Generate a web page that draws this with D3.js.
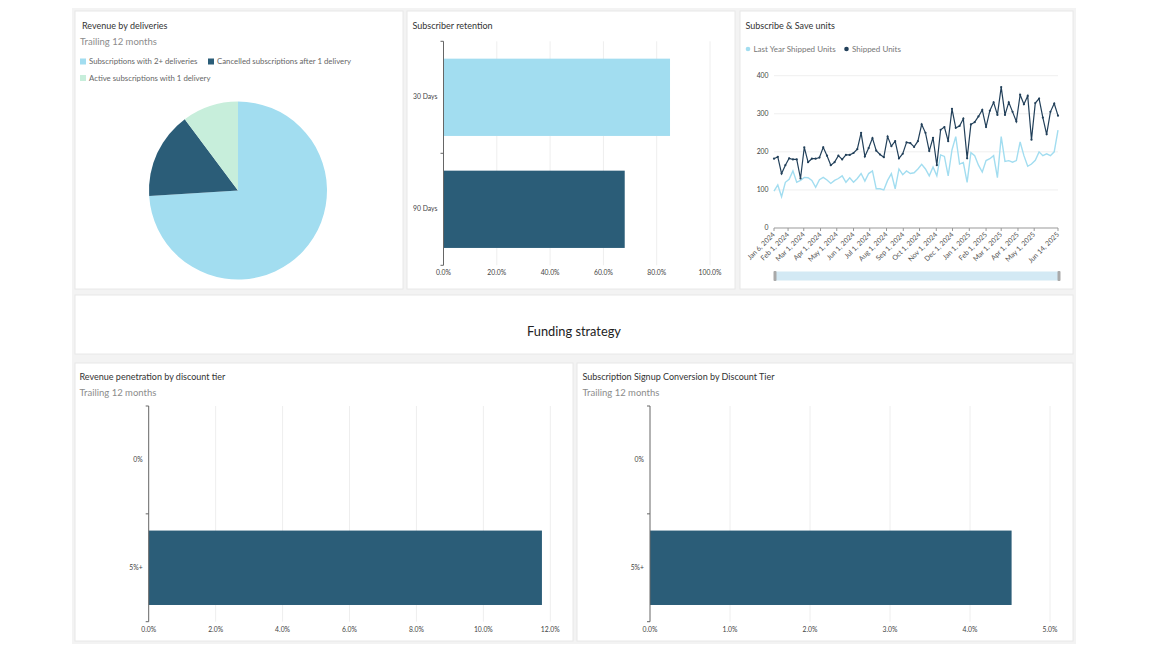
<!DOCTYPE html>
<html>
<head>
<meta charset="utf-8">
<script src="https://cdn.jsdelivr.net/npm/d3@7"></script>
<style>
  body { margin: 0; background: #fff; }
  text { font-family: Lato, "Open Sans", sans-serif; }
</style>
</head>
<body>
<div id="visualization"></div>
<script>
// ---- data ----
let pieLabels = ["Subscriptions with 2+ deliveries", "Cancelled subscriptions after 1 delivery", "Active subscriptions with 1 delivery"];
let pieValues = [74.0, 15.8, 10.2];

let retentionCats = ["30 Days", "90 Days"];
let retentionValues = [0.85, 0.68];

let firstWeek = "Jan 6, 2024";
let shippedUnits = [182,187,143,165,183,180,180,130,212,173,182,182,185,212,190,165,173,190,180,192,
  192,197,207,250,188,210,236,203,193,186,240,215,228,183,195,225,223,213,228,272,
  250,202,237,165,258,265,228,313,263,268,287,183,272,278,293,310,265,308,330,297,
  370,297,330,305,280,350,325,347,232,328,340,290,246,305,327,295];
let lastYearUnits = [97,113,82,120,128,150,120,125,133,132,125,107,127,133,126,117,125,130,137,120,
  132,120,130,143,123,143,150,103,103,100,125,143,103,155,140,150,143,145,155,167,
  155,137,160,137,192,188,137,205,240,168,172,120,198,190,165,147,177,182,190,132,
  240,175,177,173,177,226,190,162,168,178,200,190,195,190,200,257];
let dateTickLabels = ["Jan 6, 2024","Feb 1, 2024","Mar 1, 2024","Apr 1, 2024","May 1, 2024","Jun 1, 2024",
  "Jul 1, 2024","Aug 1, 2024","Sep 1, 2024","Oct 1, 2024","Nov 1, 2024","Dec 1, 2024","Jan 1, 2025",
  "Feb 1, 2025","Mar 1, 2025","Apr 1, 2025","May 1, 2025","Jun 14, 2025"];
let unitTicks = [0, 100, 200, 300, 400];

let tierCats = ["0%", "5%+"];
let revPenetration = [0, 0.1175];
let signupConversion = [0, 0.0452];

let lightBlue = "#a2ddf0";
let darkBlue = "#2b5d78";
let mint = "#c7eedb";
let navy = "#22405a";

let w = 1156;
let h = 650;

let viz = d3.select("#visualization")
  .append("svg")
  .attr("width", w)
  .attr("height", h);

// dashboard background + panels
viz.append("rect").attr("x", 72).attr("y", 8).attr("width", 1004).attr("height", 636).attr("fill", "#f3f3f3");

let panels = [
  {x: 75, y: 11, w: 328, h: 278},
  {x: 407, y: 11, w: 328, h: 278},
  {x: 740, y: 11, w: 333, h: 278},
  {x: 75, y: 295, w: 998, h: 59},
  {x: 75, y: 363, w: 498, h: 278},
  {x: 577, y: 363, w: 496, h: 278}
];
viz.selectAll(".panel").data(panels).enter()
  .append("rect")
  .attr("class", "panel")
  .attr("x", d => d.x).attr("y", d => d.y)
  .attr("width", d => d.w).attr("height", d => d.h)
  .attr("fill", "#fff")
  .attr("stroke", "#e8e8e8");

function title(x, y, txt) {
  viz.append("text").attr("x", x).attr("y", y).text(txt)
    .attr("font-size", 9).attr("fill", "#333");
}
function subtitle(x, y, txt) {
  viz.append("text").attr("x", x).attr("y", y).text(txt)
    .attr("font-size", 9.5).attr("fill", "#8c8c8c");
}

// ---- Revenue by deliveries (pie) ----
title(82, 29, "Revenue by deliveries");
subtitle(80, 45, "Trailing 12 months");

let pieColors = d3.scaleOrdinal().domain(pieLabels).range([lightBlue, darkBlue, mint]);

let legendPos = [{x: 80, y: 61.5}, {x: 208, y: 61.5}, {x: 80, y: 78}];
let leg = viz.selectAll(".pieleg").data(pieLabels).enter()
  .append("g").attr("class", "pieleg")
  .attr("transform", (d, i) => "translate(" + legendPos[i].x + "," + legendPos[i].y + ")");
leg.append("rect").attr("x", 0).attr("y", -3).attr("width", 6).attr("height", 6).attr("fill", d => pieColors(d));
leg.append("text").attr("x", 9).attr("y", 2.7).text(d => d)
  .attr("font-size", 7.8).attr("fill", "#666");

let pie = d3.pie().sort(null);
let arc = d3.arc().innerRadius(0).outerRadius(89);
viz.append("g").attr("transform", "translate(238,190.5)")
  .selectAll("path").data(pie(pieValues)).enter()
  .append("path")
  .attr("d", arc)
  .attr("fill", (d, i) => pieColors(pieLabels[i]));

// ---- horizontal bar charts ----
function hbar(opts) {
  let xScale = d3.scaleLinear().domain([0, opts.max]).range([opts.x0, opts.x1]);
  let yScale = d3.scaleBand().domain(opts.cats).range([opts.y0, opts.y1])
    .paddingInner(0.31).paddingOuter(0.155);
  let bounds = d3.scaleBand().domain(opts.cats).range([opts.y0, opts.y1]);
  let ticks = d3.range(0, opts.max + opts.step / 2, opts.step);

  let g = viz.append("g");
  g.selectAll(".grid").data(ticks.slice(1)).enter()
    .append("line")
    .attr("x1", d => xScale(d)).attr("x2", d => xScale(d))
    .attr("y1", opts.y0).attr("y2", opts.y1)
    .attr("stroke", "#eeeeee");

  g.selectAll(".bar").data(opts.values).enter()
    .append("rect")
    .attr("x", xScale(0))
    .attr("y", (d, i) => yScale(opts.cats[i]))
    .attr("width", d => xScale(d) - xScale(0))
    .attr("height", yScale.bandwidth())
    .attr("fill", (d, i) => opts.colors[i]);

  // y axis line and boundary ticks
  g.append("line").attr("x1", opts.x0).attr("x2", opts.x0)
    .attr("y1", opts.y0).attr("y2", opts.y1).attr("stroke", "#666");
  let edges = opts.cats.map(c => bounds(c)).concat([opts.y1]);
  g.selectAll(".edge").data(edges).enter()
    .append("line")
    .attr("x1", opts.x0 - 3).attr("x2", opts.x0)
    .attr("y1", d => d).attr("y2", d => d)
    .attr("stroke", "#666");

  g.selectAll(".cat").data(opts.cats).enter()
    .append("text")
    .attr("x", opts.x0 - 6)
    .attr("y", d => bounds(d) + bounds.bandwidth() / 2 + 2)
    .attr("text-anchor", "end")
    .attr("font-size", 6.8).attr("fill", "#444")
    .text(d => d);

  g.selectAll(".xt").data(ticks).enter()
    .append("text")
    .attr("x", d => xScale(d))
    .attr("y", opts.y1 + 10)
    .attr("text-anchor", "middle")
    .attr("font-size", 6.8).attr("fill", "#444")
    .text(d => d3.format(".1%")(d));
}

title(412.5, 29, "Subscriber retention");
hbar({cats: retentionCats, values: retentionValues, colors: [lightBlue, darkBlue],
  max: 1, step: 0.2, x0: 443.5, x1: 710, y0: 41.3, y1: 265.3});

title(79.5, 380, "Revenue penetration by discount tier");
subtitle(79.5, 396, "Trailing 12 months");
hbar({cats: tierCats, values: revPenetration, colors: [darkBlue, darkBlue],
  max: 0.12, step: 0.02, x0: 148.7, x1: 550.3, y0: 406, y1: 621.7});

title(582.5, 380, "Subscription Signup Conversion by Discount Tier");
subtitle(582.5, 396, "Trailing 12 months");
hbar({cats: tierCats, values: signupConversion, colors: [darkBlue, darkBlue],
  max: 0.05, step: 0.01, x0: 650, x1: 1050, y0: 406, y1: 621.7});

// ---- Funding strategy header ----
viz.append("text").attr("x", 574).attr("y", 335.5)
  .attr("text-anchor", "middle").attr("font-size", 12.8).attr("fill", "#222")
  .text("Funding strategy");

// ---- Subscribe & Save units (lines) ----
title(745.5, 29, "Subscribe & Save units");

let parseDate = d3.timeParse("%b %d, %Y");
let start = parseDate(firstWeek);
let weeks = shippedUnits.map((d, i) => d3.timeDay.offset(start, 7 * i));
let tickDates = dateTickLabels.map(parseDate);

let xTime = d3.scaleTime().domain([weeks[0], weeks[weeks.length - 1]]).range([774, 1058]);
let yUnits = d3.scaleLinear().domain([0, 400]).range([228, 75.7]);

let lg = viz.append("g");
lg.selectAll(".hgrid").data(unitTicks.slice(1)).enter()
  .append("line")
  .attr("x1", 774).attr("x2", 1058)
  .attr("y1", d => yUnits(d)).attr("y2", d => yUnits(d))
  .attr("stroke", "#efefef");
lg.selectAll(".yl").data(unitTicks).enter()
  .append("text")
  .attr("x", 768.5).attr("y", d => yUnits(d) + 2.3)
  .attr("text-anchor", "end").attr("font-size", 6.8).attr("fill", "#444")
  .text(d => d);

lg.append("line").attr("x1", 774).attr("x2", 1058).attr("y1", 228).attr("y2", 228).attr("stroke", "#999");
lg.selectAll(".xtick").data(tickDates).enter()
  .append("line")
  .attr("x1", d => xTime(d)).attr("x2", d => xTime(d))
  .attr("y1", 228).attr("y2", 231).attr("stroke", "#999");
lg.selectAll(".xl").data(tickDates).enter()
  .append("text")
  .attr("transform", d => "translate(" + (xTime(d) + 1.5) + ",235) rotate(-45)")
  .attr("text-anchor", "end").attr("font-size", 7).attr("fill", "#555")
  .text((d, i) => dateTickLabels[i]);

let line = d3.line()
  .x((d, i) => xTime(weeks[i]))
  .y(d => yUnits(d));

lg.append("path").datum(lastYearUnits)
  .attr("d", line).attr("fill", "none")
  .attr("stroke", lightBlue).attr("stroke-width", 1.4);
lg.append("path").datum(shippedUnits)
  .attr("d", line).attr("fill", "none")
  .attr("stroke", navy).attr("stroke-width", 1.2);
lg.selectAll(".dot").data(shippedUnits).enter()
  .append("circle")
  .attr("cx", (d, i) => xTime(weeks[i])).attr("cy", d => yUnits(d))
  .attr("r", 1.1).attr("fill", navy);

// legend
let lineLegend = [{label: "Last Year Shipped Units", color: lightBlue, x: 748},
                  {label: "Shipped Units", color: navy, x: 846.5}];
let ll = lg.selectAll(".ll").data(lineLegend).enter().append("g")
  .attr("transform", d => "translate(" + d.x + ",49)");
ll.append("circle").attr("r", 2.3).attr("fill", d => d.color);
ll.append("text").attr("x", 5.5).attr("y", 2.7).attr("font-size", 8).attr("fill", "#777")
  .text(d => d.label);

// scroll bar under the time axis
lg.append("rect").attr("x", xTime.range()[0] + 1.5).attr("y", 271.5)
  .attr("width", xTime.range()[1] - xTime.range()[0] - 1).attr("height", 9)
  .attr("fill", "#d3e9f4");
lg.selectAll(".handle").data(xTime.range()).enter()
  .append("rect")
  .attr("x", d => d - 0.5).attr("y", 271).attr("width", 3).attr("height", 10).attr("rx", 1)
  .attr("fill", "#a9a9a9");
</script>
</body>
</html>
